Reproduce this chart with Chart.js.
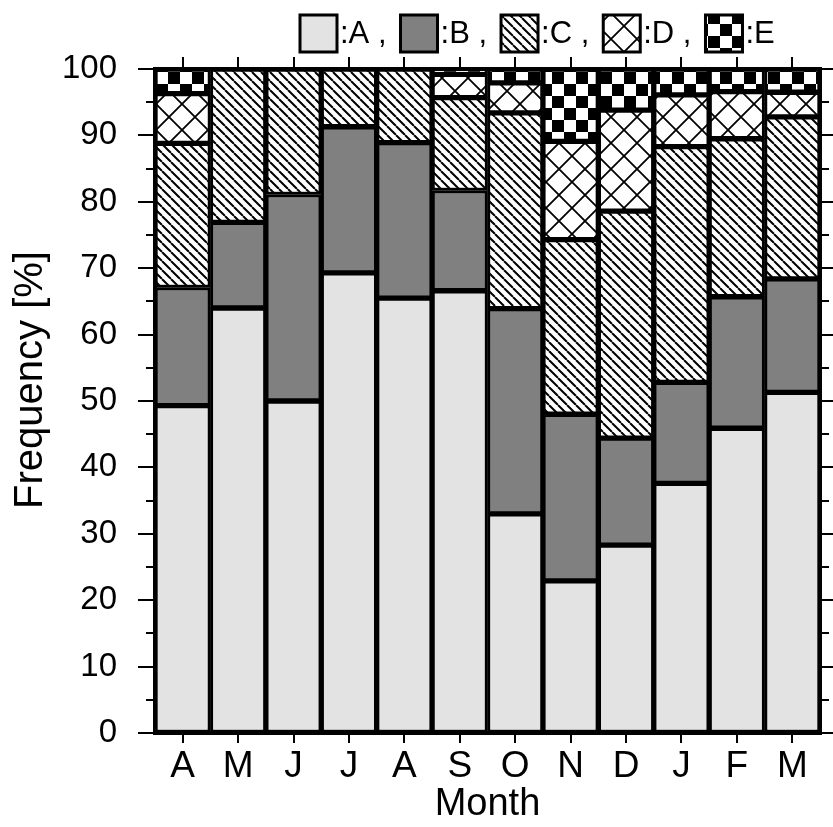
<!DOCTYPE html>
<html>
<head>
<meta charset="utf-8">
<script src="https://cdn.jsdelivr.net/npm/chart.js@4"></script>
<style>
  html, body { margin: 0; padding: 0; background: #fff; }
  #wrap { width: 833px; height: 827px; }
</style>
</head>
<body>
<div id="wrap"><canvas id="freqChart"></canvas></div>
<script>
// months April..March
const months = ['A', 'M', 'J', 'J', 'A', 'S', 'O', 'N', 'D', 'J', 'F', 'M'];
const typeA = [49.3, 64.0, 50.0, 69.3, 65.5, 66.6, 33.0, 22.9, 28.3, 37.6, 45.9, 51.3];
const typeB = [17.8, 12.9, 31.1, 22.0, 23.4, 15.1, 30.9, 25.1, 16.1, 15.2, 19.8, 17.1];
const typeC = [21.7, 23.1, 18.9, 8.7, 11.1, 14.0, 29.5, 26.3, 34.2, 35.5, 23.8, 24.4];
const typeD = [7.5, 0, 0, 0, 0, 3.5, 4.5, 14.8, 15.2, 7.8, 7.1, 3.7];
const typeE = [3.7, 0, 0, 0, 0, 0.8, 2.1, 10.9, 6.2, 3.9, 3.4, 3.5];
const yTicks = [0, 10, 20, 30, 40, 50, 60, 70, 80, 90, 100];
const legendNames = [':A ,', ':B ,', ':C ,', ':D ,', ':E'];
const yTitle = 'Frequency [%]';

const FONT = '"Liberation Sans", Arial, sans-serif';

function makePattern(size, drawFn) {
    const c = document.createElement('canvas');
    c.width = size;
    c.height = size;
    const g = c.getContext('2d');
    g.fillStyle = '#fff';
    g.fillRect(0, 0, size, size);
    g.strokeStyle = '#000';
    g.fillStyle = '#000';
    drawFn(g, size);
    return document.createElement('canvas').getContext('2d').createPattern(c, 'repeat');
}

// C: back diagonal lines
const hatchC = makePattern(9, (g, s) => {
    g.lineWidth = 2;
    g.beginPath();
    for (let k = -1; k <= 1; k++) {
        g.moveTo(k * s, 0);
        g.lineTo(k * s + s, s);
    }
    g.stroke();
});
// D: diamond cross hatch
const hatchD = makePattern(26, (g, s) => {
    g.lineWidth = 1.8;
    g.beginPath();
    g.moveTo(0, 0); g.lineTo(s, s);
    g.moveTo(s, 0); g.lineTo(0, s);
    g.stroke();
});
// E: checkerboard
const checkE = makePattern(24, (g, s) => {
    g.fillRect(0, 0, s / 2, s / 2);
    g.fillRect(s / 2, s / 2, s / 2, s / 2);
});

const fills = ['#e3e3e3', '#808080', hatchC, hatchD, checkE];
const series = [typeA, typeB, typeC, typeD, typeE];

// frame, outside ticks, y title and the legend row
const framePlugin = {
    id: 'frame',
    afterDraw(chart) {
        const ctx = chart.ctx;
        const a = chart.chartArea;
        const x = chart.scales.x;
        const y = chart.scales.y;
        ctx.save();
        ctx.strokeStyle = '#000';
        ctx.lineWidth = 2;
        ctx.beginPath();
        for (let v = 0; v <= 100; v += 5) {
            const py = Math.round(y.getPixelForValue(v));
            const len = v % 10 === 0 ? 17 : 9;
            ctx.moveTo(a.left - len, py); ctx.lineTo(a.left, py);
            ctx.moveTo(a.right, py); ctx.lineTo(a.right + len, py);
        }
        for (let i = 0; i < months.length; i++) {
            const px = Math.round(x.getPixelForValue(i));
            ctx.moveTo(px, a.top - 12); ctx.lineTo(px, a.top);
            ctx.moveTo(px, a.bottom); ctx.lineTo(px, a.bottom + 10);
        }
        ctx.stroke();
        ctx.lineWidth = 4;
        ctx.strokeRect(a.left, a.top, a.right - a.left, a.bottom - a.top);

        // y title (sits a little above the middle of the axis)
        ctx.save();
        ctx.translate(31, 380);
        ctx.rotate(-Math.PI / 2);
        ctx.font = '40px ' + FONT;
        ctx.textAlign = 'center';
        ctx.textBaseline = 'middle';
        ctx.fillStyle = '#000';
        ctx.fillText(yTitle, 0, 0);
        ctx.restore();

        // legend
        ctx.font = '31px ' + FONT;
        ctx.textBaseline = 'middle';
        ctx.textAlign = 'left';
        let lx = 300;
        const ly = 15;
        const box = 37;
        chart.data.datasets.forEach((ds, i) => {
            ctx.fillStyle = ds.backgroundColor;
            ctx.fillRect(lx, ly, box, box);
            ctx.lineWidth = 3;
            ctx.strokeRect(lx, ly, box, box);
            ctx.fillStyle = '#000';
            ctx.fillText(legendNames[i], lx + box + 3, ly + box / 2 + 1);
            lx += box + 3 + ctx.measureText(legendNames[i]).width + 14;
        });
        ctx.restore();
    }
};

new Chart(document.getElementById('freqChart').getContext('2d'), {
    type: 'bar',
    data: {
        labels: months,
        datasets: series.map((vals, i) => ({
            label: legendNames[i],
            data: vals,
            backgroundColor: fills[i],
            borderColor: '#000',
            borderWidth: 3,
            borderSkipped: false,
            barPercentage: 1,
            categoryPercentage: 1
        }))
    },
    options: {
        responsive: true,
        maintainAspectRatio: false,
        animation: false,
        layout: { padding: { left: 0, right: 13, top: 69, bottom: 0 } },
        plugins: {
            legend: { display: false },
            tooltip: { enabled: false }
        },
        scales: {
            x: {
                stacked: true,
                afterFit: (s) => { s.height = 94; },
                border: { display: false },
                grid: { drawOnChartArea: false, tickLength: 10, tickColor: 'rgba(0,0,0,0)' },
                ticks: {
                    color: '#000',
                    padding: 2,
                    font: { family: FONT, size: 37 }
                },
                title: {
                    display: true,
                    text: 'Month',
                    color: '#000',
                    padding: { top: -3, bottom: 0 },
                    font: { family: FONT, size: 38 }
                }
            },
            y: {
                stacked: true,
                min: 0,
                max: 100,
                afterFit: (s) => { s.width = 155; },
                afterBuildTicks: (s) => { s.ticks = yTicks.map(v => ({ value: v })); },
                border: { display: false },
                grid: { drawOnChartArea: false, tickLength: 16, tickColor: 'rgba(0,0,0,0)' },
                ticks: {
                    color: '#000',
                    padding: 22,
                    font: { family: FONT, size: 33 }
                }
            }
        }
    },
    plugins: [framePlugin]
});
</script>
</body>
</html>
